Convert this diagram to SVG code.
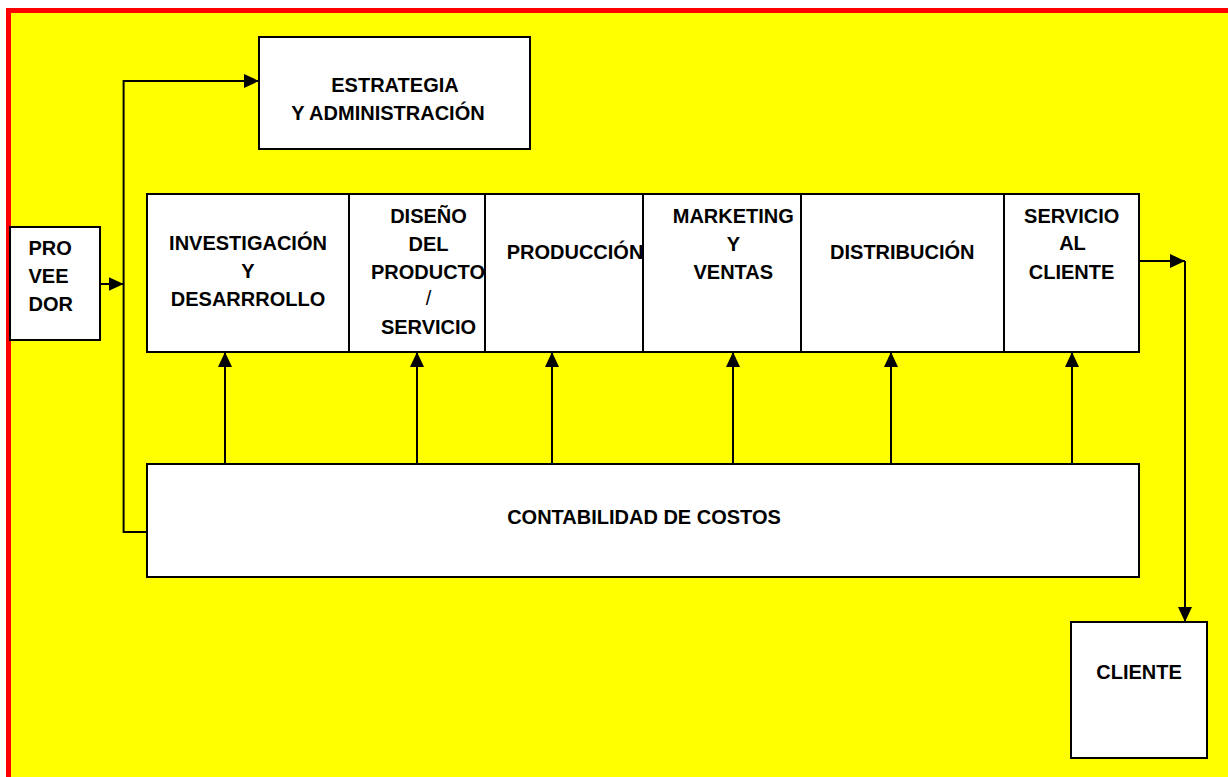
<svg xmlns="http://www.w3.org/2000/svg" width="1228" height="777" viewBox="0 0 1228 777">
<defs>
<marker id="ah" markerUnits="userSpaceOnUse" markerWidth="15" markerHeight="14" refX="15" refY="7" orient="auto" viewBox="0 0 15 14">
<path d="M0,0 L15,7 L0,14 z" fill="#000"/>
</marker>
</defs>
<style>
.box{fill:#fff;stroke:#000;stroke-width:2}
.t{font-family:"Liberation Sans",Arial,sans-serif;font-weight:bold;font-size:20px;fill:#000;text-anchor:middle}
.tl{font-family:"Liberation Sans",Arial,sans-serif;font-weight:bold;font-size:20px;fill:#000}
.sl{font-weight:normal}
.c{fill:none;stroke:#000;stroke-width:2}
.ca{fill:none;stroke:#000;stroke-width:2;marker-end:url(#ah)}
</style>
<rect x="8.5" y="10.5" width="1300" height="900" fill="#ffff00" stroke="#ff0000" stroke-width="5"/>

<g id="connectors">
<path class="ca" d="M147,532 H123.6 V81 H259"/>
<path class="ca" d="M100,284 H123.6"/>
<path class="ca" d="M1139,261 H1185"/>
<path class="ca" d="M1185,261 V622"/>
<path class="ca" d="M225,464 V352"/>
<path class="ca" d="M417,464 V352"/>
<path class="ca" d="M552,464 V352"/>
<path class="ca" d="M733,464 V352"/>
<path class="ca" d="M891,464 V352"/>
<path class="ca" d="M1072,464 V352"/>
</g>

<g id="estrategia">
<rect class="box" x="259" y="37" width="271" height="112"/>
<text class="t" x="395" y="92">ESTRATEGIA</text>
<text class="t" x="388" y="120">Y ADMINISTRACIÓN</text>
</g>

<g id="proveedor">
<rect class="box" x="10" y="227" width="90" height="113"/>
<text class="tl" x="28.5" y="255">PRO</text>
<text class="tl" x="28.5" y="283">VEE</text>
<text class="tl" x="28.5" y="311">DOR</text>
</g>

<g id="investigacion">
<rect class="box" x="147" y="194" width="202" height="158"/>
<text class="t" x="248" y="250">INVESTIGACIÓN</text>
<text class="t" x="248" y="278">Y</text>
<text class="t" x="248" y="306">DESARRROLLO</text>
</g>

<g id="diseno">
<rect class="box" x="349" y="194" width="136" height="158"/>
<text class="t" x="428.5" y="222.5">DISEÑO</text>
<text class="t" x="428.5" y="250.5">DEL</text>
<text class="t" x="428" y="278.5">PRODUCTO</text>
<text class="t sl" x="428.5" y="305">/</text>
<text class="t" x="428.5" y="333.5">SERVICIO</text>
</g>

<g id="produccion">
<rect class="box" x="485" y="194" width="158" height="158"/>
<text class="t" x="575" y="258.5">PRODUCCIÓN</text>
</g>

<g id="marketing">
<rect class="box" x="643" y="194" width="158" height="158"/>
<text class="t" x="733.3" y="222.5">MARKETING</text>
<text class="t" x="733.3" y="250.5">Y</text>
<text class="t" x="733.3" y="279">VENTAS</text>
</g>

<g id="distribucion">
<rect class="box" x="801" y="194" width="203" height="158"/>
<text class="t" x="902.3" y="258.5">DISTRIBUCIÓN</text>
</g>

<g id="servicio">
<rect class="box" x="1004" y="194" width="135" height="158"/>
<text class="t" x="1071.7" y="222.5">SERVICIO</text>
<text class="t" x="1072.5" y="250">AL</text>
<text class="t" x="1071.5" y="279">CLIENTE</text>
</g>

<g id="contabilidad">
<rect class="box" x="147" y="464" width="992" height="113"/>
<text class="t" x="644" y="524">CONTABILIDAD DE COSTOS</text>
</g>

<g id="cliente">
<rect class="box" x="1071" y="622" width="136" height="136"/>
<text class="t" x="1139" y="679">CLIENTE</text>
</g>
</svg>
